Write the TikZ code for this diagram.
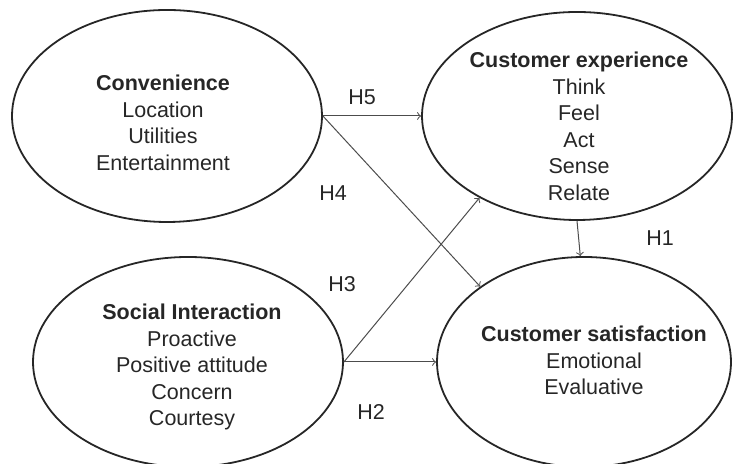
\documentclass[tikz,border=0pt]{standalone}
\usepackage{fontspec}
\setmainfont{Liberation Sans}
\usetikzlibrary{shapes,positioning}

\begin{document}
\begin{tikzpicture}
     [x=0.5pt, y=0.5pt, >=to,
       construct/.style={draw=black!85, line width=0.9pt, ellipse, inner sep=0pt},
       items/.style={align=center, text=black!85, font=\fontsize{10.75}{13.25}\selectfont},
       hyp/.style={text=black!85, font=\fontsize{10.75}{13.25}\selectfont},
       path/.style={->, draw=black!70, line width=0.5pt}]
     %[semithick, >=latex]
   \clip (0,0) rectangle (734,464);
   \node (CONV) [construct, minimum width=155pt, minimum height=106pt] at (167,348) {};
   \node (EXP) [construct, minimum width=155pt, minimum height=104pt] at (577,348) {};
   \node (SOC) [construct, minimum width=155pt, minimum height=105pt] at (188,102) {};
   \node (SAT) [construct, minimum width=147pt, minimum height=105pt] at (584,102) {};
   \node (CONVT) [items] at (163,341) {\textbf{Convenience}\\Location\\Utilities\\Entertainment};
   \node (EXPT) [items] at (579,337.5) {\textbf{Customer experience}\\Think\\Feel\\Act\\Sense\\Relate};
   \node (SOCT) [items] at (192,97) {\textbf{Social Interaction}\\Proactive\\Positive attitude\\Concern\\Courtesy};
   \node (SATT) [items] at (594,103.5) {\textbf{Customer satisfaction}\\Emotional\\Evaluative};
   % hypotheses
   \draw[path, >={to[scale=1.3]}] (CONV.east) -- (EXP.west);
   \draw[path, >={to[scale=1.3]}] (CONV.east) -- (SAT.144);
   \draw[path, >={to[scale=1.3]}] (SOC.east) -- (EXP.220);
   \draw[path, >={to[scale=1.3]}] (SOC.east) -- (SAT.west);
   \draw[path, >={to[scale=1.3]}] (EXP.south) -- (SAT.92);
   \node (H5) [hyp] at (362,367) {H5};
   \node (H4) [hyp] at (333,271) {H4};
   \node (H3) [hyp] at (342,180) {H3};
   \node (H2) [hyp] at (371,52) {H2};
   \node (H1) [hyp] at (660,226) {H1};
\end{tikzpicture}
\end{document}
